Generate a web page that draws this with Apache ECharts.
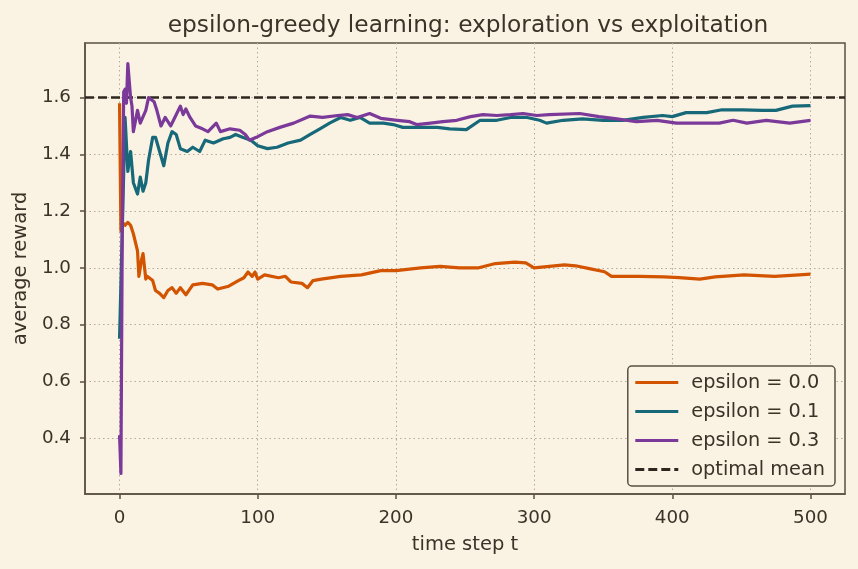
<!DOCTYPE html>
<html>
<head>
<meta charset="utf-8">
<script src="https://cdn.jsdelivr.net/npm/echarts@6/dist/echarts.min.js"></script>
<style>
  html, body { margin: 0; padding: 0; background: #faf3e3; }
  #chart { width: 858px; height: 569px; }
</style>
</head>
<body>
<div id="chart"></div>
<script>
// values (time step, average reward)
const stepsEps0 = [0, 1, 2, 4, 6, 8, 10, 12, 13, 14, 16, 17, 19, 20, 24, 26, 29, 32, 35, 38, 41, 44, 48, 53, 60, 67, 71, 79, 86, 90, 93, 96, 98, 100, 105, 115, 120, 124, 132, 136, 140, 146, 160, 175, 189, 200, 218, 232, 246, 260, 272, 286, 294, 300, 311, 322, 330, 340, 351, 356, 376, 394, 405, 420, 431, 452, 474, 492, 500]
const rewardEps0 = [1.58, 1.13, 1.16, 1.15, 1.16, 1.15, 1.12, 1.08, 1.06, 0.97, 1.03, 1.05, 0.96, 0.97, 0.955, 0.92, 0.91, 0.895, 0.92, 0.93, 0.91, 0.93, 0.905, 0.94, 0.945, 0.94, 0.925, 0.935, 0.955, 0.965, 0.985, 0.97, 0.985, 0.96, 0.975, 0.965, 0.97, 0.95, 0.945, 0.93, 0.955, 0.96, 0.97, 0.975, 0.99, 0.99, 1.0, 1.005, 1.0, 1.0, 1.015, 1.02, 1.017, 1.0, 1.005, 1.01, 1.007, 0.997, 0.986, 0.97, 0.97, 0.968, 0.965, 0.96, 0.968, 0.975, 0.97, 0.975, 0.978]

const stepsEps1 = [0, 2, 4, 6, 8, 10, 13, 15, 17, 19, 21, 24, 26, 29, 32, 35, 38, 41, 44, 49, 53, 58, 62, 68, 75, 80, 84, 89, 95, 100, 107, 114, 122, 131, 138, 145, 152, 160, 167, 174, 181, 191, 198, 205, 215, 230, 239, 251, 261, 273, 283, 295, 304, 309, 321, 335, 350, 364, 379, 393, 400, 410, 425, 436, 451, 465, 475, 487, 500]
const rewardEps1 = [0.75, 1.14, 1.53, 1.34, 1.41, 1.30, 1.26, 1.32, 1.27, 1.30, 1.38, 1.46, 1.46, 1.41, 1.36, 1.44, 1.48, 1.47, 1.42, 1.41, 1.425, 1.41, 1.45, 1.44, 1.455, 1.46, 1.47, 1.46, 1.45, 1.43, 1.42, 1.425, 1.44, 1.45, 1.47, 1.49, 1.51, 1.53, 1.52, 1.53, 1.51, 1.51, 1.505, 1.495, 1.495, 1.495, 1.49, 1.487, 1.52, 1.52, 1.53, 1.53, 1.52, 1.51, 1.52, 1.525, 1.52, 1.52, 1.53, 1.537, 1.533, 1.547, 1.547, 1.557, 1.557, 1.555, 1.555, 1.57, 1.572]

const stepsEps3 = [0, 1, 2, 3, 4, 5, 6, 8, 9, 10, 13, 15, 19, 21, 25, 27, 30, 33, 37, 40, 44, 46, 48, 51, 55, 60, 64, 70, 73, 80, 87, 91, 94, 99, 107, 116, 126, 138, 147, 158, 165, 172, 181, 189, 201, 210, 215, 225, 234, 244, 254, 263, 273, 283, 292, 302, 311, 333, 347, 360, 374, 389, 403, 418, 434, 444, 454, 468, 485, 500]
const rewardEps3 = [0.41, 0.275, 1.15, 1.62, 1.63, 1.58, 1.72, 1.60, 1.57, 1.48, 1.555, 1.51, 1.555, 1.60, 1.585, 1.555, 1.50, 1.53, 1.50, 1.53, 1.57, 1.54, 1.56, 1.53, 1.50, 1.49, 1.48, 1.51, 1.48, 1.49, 1.485, 1.47, 1.45, 1.46, 1.48, 1.495, 1.51, 1.535, 1.53, 1.537, 1.54, 1.53, 1.544, 1.527, 1.52, 1.515, 1.505, 1.51, 1.515, 1.52, 1.533, 1.54, 1.537, 1.54, 1.544, 1.537, 1.54, 1.544, 1.533, 1.525, 1.515, 1.52, 1.51, 1.51, 1.51, 1.52, 1.51, 1.52, 1.51, 1.52]

const optimalMean = 1.6
const xTicks = [0, 100, 200, 300, 400, 500]
const yTicks = [0.4, 0.6, 0.8, 1.0, 1.2, 1.4, 1.6]
const seriesNames = ['epsilon = 0.0', 'epsilon = 0.1', 'epsilon = 0.3', 'optimal mean']

const ink = '#3b3228'
const spine = '#5b5043'
const colors = ['#d35400', '#17697a', '#7b3a9a']
const dashColor = '#2e2720'
const font = 'DejaVu Sans'

function zip(xs, ys) {
  return xs.map((x, i) => [x, ys[i]])
}

const chart = echarts.init(document.getElementById('chart'))

const lines = [zip(stepsEps0, rewardEps0), zip(stepsEps1, rewardEps1), zip(stepsEps3, rewardEps3)]
const series = lines.map((d, i) => ({
  name: seriesNames[i],
  type: 'line',
  data: d,
  symbol: 'none',
  color: colors[i],
  lineStyle: { width: 3.2, color: colors[i], join: 'round' },
  z: 3 + i,
}))
// dashed reference line across the whole plot
series.push({
  name: seriesNames[3],
  type: 'line',
  data: [],
  symbol: 'none',
  color: dashColor,
  lineStyle: { width: 2.5, type: [9, 4], color: dashColor },
  markLine: {
    silent: true,
    symbol: 'none',
    label: { show: false },
    lineStyle: { width: 2.5, type: [9, 4], color: dashColor },
    data: [{ yAxis: optimalMean }],
  },
  z: 10,
})

const option = {
  backgroundColor: '#faf3e3',
  animation: false,
  title: {
    text: 'epsilon-greedy learning: exploration vs exploitation',
    left: 463,
    textAlign: 'center',
    top: 9,
    textStyle: { fontFamily: font, fontSize: 23.3, fontWeight: 'normal', color: ink },
  },
  grid: {
    left: 85,
    right: 13,
    top: 43,
    bottom: 75,
    show: true,
    borderColor: spine,
    borderWidth: 1.5,
    backgroundColor: 'transparent',
  },
  legend: {
    orient: 'vertical',
    right: 23,
    bottom: 83,
    data: seriesNames,
    itemWidth: 43,
    itemHeight: 14,
    itemGap: 10,
    padding: [7, 10, 7, 6],
    backgroundColor: '#faf3e3',
    borderColor: spine,
    borderWidth: 1.5,
    borderRadius: 4,
    itemStyle: { opacity: 0 },
    lineStyle: { width: 3 },
    textStyle: { fontFamily: font, fontSize: 19.3, color: ink, padding: [0, 0, 0, 8] },
  },
  xAxis: {
    type: 'value',
    min: -25,
    max: 525,
    name: 'time step t',
    nameLocation: 'middle',
    nameGap: 41,
    nameTextStyle: { fontFamily: font, fontSize: 19.5, color: ink },
    axisLine: { show: true, onZero: false, lineStyle: { color: spine, width: 1.5 } },
    axisTick: { show: true, length: 5, customValues: xTicks, lineStyle: { color: spine, width: 1.5 } },
    axisLabel: { customValues: xTicks, margin: 15, fontFamily: font, fontSize: 18.3, color: ink },
    splitLine: { show: true, lineStyle: { color: '#b5aa9a', width: 1, type: [1.5, 3] } },
  },
  yAxis: {
    type: 'value',
    min: 0.2025,
    max: 1.7925,
    name: 'average reward',
    nameLocation: 'middle',
    nameGap: 52,
    nameRotate: 90,
    nameTextStyle: { fontFamily: font, fontSize: 19.5, color: ink },
    axisLine: { show: true, onZero: false, lineStyle: { color: spine, width: 1.5 } },
    axisTick: { show: true, length: 5, customValues: yTicks, lineStyle: { color: spine, width: 1.5 } },
    axisLabel: {
      customValues: yTicks,
      margin: 14,
      fontFamily: font,
      fontSize: 18.3,
      color: ink,
      formatter: (v) => v.toFixed(1),
    },
    splitLine: { show: true, lineStyle: { color: '#b5aa9a', width: 1, type: [1.5, 3] } },
  },
  series: series,
}

chart.setOption(option)
</script>
</body>
</html>
